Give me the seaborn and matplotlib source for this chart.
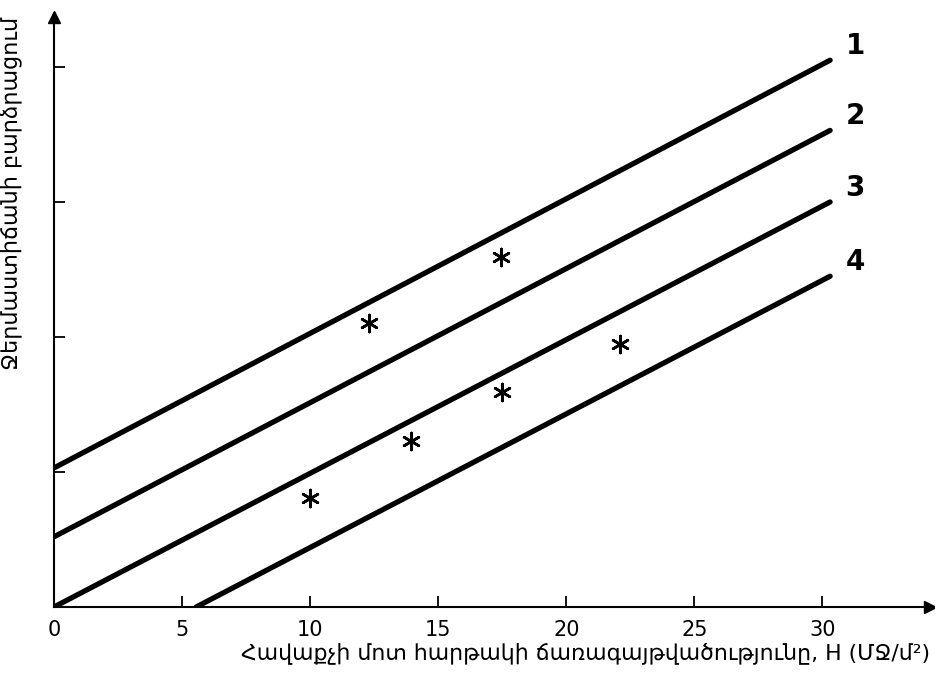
import numpy as np
import pandas as pd
import matplotlib
matplotlib.use("Agg")
import matplotlib.pyplot as plt
import seaborn as sns

# each line as start and end point
line_ids = ["1", "2", "3", "4"]
line_x0 = [0.0, 0.0, 0.0, 5.55]
line_y0 = [1.03, 0.52, 0.0, 0.0]
line_x1 = [30.3, 30.3, 30.3, 30.3]
line_y1 = [4.05, 3.53, 3.0, 2.45]

# measured points (asterisks)
pts_x = [10.0, 12.3, 13.95, 17.45, 17.5, 22.1]
pts_y = [0.81, 2.10, 1.23, 2.59, 1.59, 1.95]

x_ticks = [0, 5, 10, 15, 20, 25, 30]
y_ticks = [1, 2, 3, 4]

xlabel = "Հավաքչի մոտ հարթակի ճառագայթվածությունը, H (ՄՋ/մ²)"
ylabel = "Ջերմաստիճանի բարձրացում"

lines = pd.DataFrame({
    "line": line_ids * 2,
    "H": line_x0 + line_x1,
    "dT": line_y0 + line_y1,
})
pts = pd.DataFrame({"H": pts_x, "dT": pts_y})

sns.set_style("white")
plt.rcParams["font.family"] = ["DejaVu Sans"]
plt.rcParams["text.color"] = "black"
plt.rcParams["axes.labelcolor"] = "black"
plt.rcParams["xtick.color"] = "black"
plt.rcParams["ytick.color"] = "black"

fig = plt.figure(figsize=(9.35, 6.77), dpi=100)
ax = fig.add_axes([54 / 935, 70 / 677, 876 / 935, 590 / 677])

sns.lineplot(data=lines, x="H", y="dT", hue="line", units="line", estimator=None,
             palette=["black"] * 4, linewidth=3.8, legend=False, ax=ax,
             solid_capstyle="round")
sns.scatterplot(data=pts, x="H", y="dT", marker=(6, 2, 0), s=150, color="black",
                linewidth=1.9, ax=ax)

for lid, xe, ye in zip(line_ids, line_x1, line_y1):
    ax.text(xe + 0.6, ye + 0.0, lid, fontsize=20, fontweight="bold",
            ha="left", va="bottom", color="black")

ax.set_xlim(0, 34.2)
ax.set_ylim(0, 4.37)
ax.set_xticks(x_ticks)
ax.set_xticklabels([str(t) for t in x_ticks], fontsize=15)
ax.set_yticks(y_ticks)
ax.set_yticklabels([])
ax.tick_params(left=True, bottom=True, direction="in", length=8, width=1.3,
               color="black", pad=9)

for s in ["top", "right"]:
    ax.spines[s].set_visible(False)
for s in ["left", "bottom"]:
    ax.spines[s].set_linewidth(1.5)
    ax.spines[s].set_color("black")
ax.plot(1, 0, ">k", markersize=9, transform=ax.transAxes, clip_on=False)
ax.plot(0, 1, "^k", markersize=9, transform=ax.transAxes, clip_on=False)

ax.set_xlabel(xlabel, fontsize=15.8, loc="right", labelpad=2)
ax.set_ylabel(ylabel, fontsize=16, loc="top", labelpad=14)

fig.savefig("out.png", dpi=100, facecolor="white")
